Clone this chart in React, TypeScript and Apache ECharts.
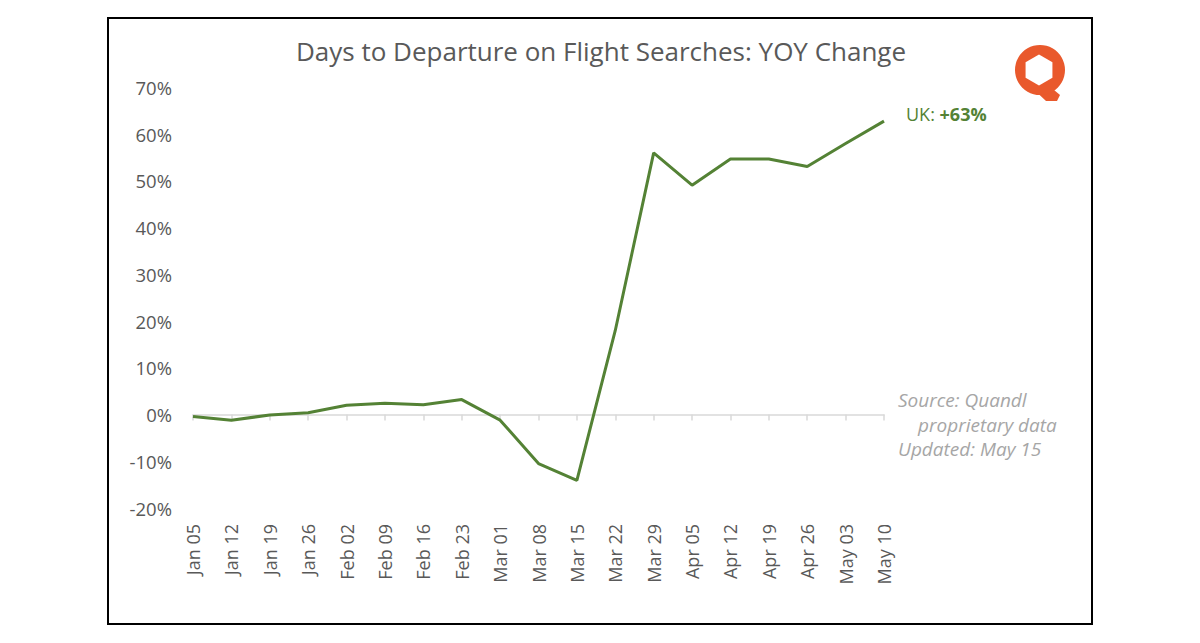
import React, { useEffect, useRef } from "react";
import * as echarts from "echarts";

const categories = [
  "Jan 05", "Jan 12", "Jan 19", "Jan 26", "Feb 02", "Feb 09", "Feb 16", "Feb 23",
  "Mar 01", "Mar 08", "Mar 15", "Mar 22", "Mar 29", "Apr 05", "Apr 12", "Apr 19",
  "Apr 26", "May 03", "May 10",
];
const ukValues = [
  -0.4, -1.2, -0.1, 0.4, 2.0, 2.4, 2.1, 3.2,
  -1.2, -10.5, -14.1, 18.0, 56.0, 49.1, 54.7, 54.7,
  53.1, 58.0, 62.8,
];
const yTicks = { min: -20, max: 70, interval: 10 };
const titleText = "Days to Departure on Flight Searches: YOY Change";
const seriesLabel = { name: "UK: ", value: "+63%" };
const sourceLines = ["Source: Quandl", "proprietary data", "Updated: May 15"];

const GREEN = "#548235";
const GRAY = "#595959";
const ORANGE = "#E9592C";
const FONT = "'Open Sans', 'Noto Sans', sans-serif";

export default function App() {
  const ref = useRef<HTMLDivElement>(null);
  useEffect(() => {
    if (!ref.current) return;
    const chart = echarts.init(ref.current, null, { renderer: "svg" });
    const hexPts: number[][] = [];
    for (let i = 0; i < 6; i++) {
      const a = (Math.PI / 3) * i - Math.PI / 2;
      hexPts.push([1039 + 15.5 * Math.cos(a), 70 + 15.5 * Math.sin(a)]);
    }
    chart.setOption({
      animation: false,
      backgroundColor: "#ffffff",
      title: {
        text: titleText,
        left: 596,
        top: 33,
        textAlign: "center",
        textStyle: { fontFamily: FONT, fontSize: 26, fontWeight: "normal", color: GRAY },
      },
      grid: { left: 193, right: 316, top: 87.5, bottom: 135, containLabel: false },
      xAxis: [
        {
          type: "category",
          data: categories,
          boundaryGap: false,
          axisLine: { show: false, onZero: false },
          axisTick: { show: false },
          axisLabel: {
            rotate: 90,
            margin: 16,
            fontFamily: FONT,
            fontSize: 18,
            color: GRAY,
            interval: 0,
          },
          splitLine: { show: false },
        },
        {
          type: "category",
          data: categories,
          boundaryGap: false,
          position: "bottom",
          axisLine: { show: true, onZero: true, lineStyle: { color: "#d9d9d9", width: 1.5 } },
          axisTick: { show: true, length: 6, interval: 0, lineStyle: { color: "#d9d9d9", width: 1.5 } },
          axisLabel: { show: false },
          splitLine: { show: false },
        },
      ],
      yAxis: {
        type: "value",
        min: yTicks.min,
        max: yTicks.max,
        interval: yTicks.interval,
        axisLine: { show: false },
        axisTick: { show: false },
        splitLine: { show: false },
        axisLabel: {
          formatter: (v: number) => `${Math.round(v)}%`,
          fontFamily: FONT,
          fontSize: 18.5,
          color: GRAY,
          margin: 21,
        },
      },
      series: [
        {
          type: "line",
          name: "UK",
          data: ukValues,
          xAxisIndex: 0,
          showSymbol: false,
          symbol: "none",
          lineStyle: { color: GREEN, width: 3 },
          endLabel: {
            show: true,
            formatter: () => `{n|${seriesLabel.name}}{b|${seriesLabel.value}}`,
            distance: 22,
            offset: [0, -7],
            rich: {
              n: { fontFamily: FONT, fontSize: 18, color: GREEN },
              b: { fontFamily: FONT, fontSize: 18, color: GREEN, fontWeight: "bold" },
            },
          },
        },
      ],
      graphic: [
        {
          type: "rect",
          shape: { x: 108, y: 18, width: 984, height: 606 },
          style: { fill: "none", stroke: "#000000", lineWidth: 2 },
          silent: true,
        },
        {
          type: "text",
          left: 898,
          top: 390,
          style: {
            text: sourceLines[0],
            font: `italic 19px ${FONT}`,
            fill: "#a6a6a6",
          },
        },
        {
          type: "text",
          left: 918,
          top: 415,
          style: {
            text: sourceLines[1],
            font: `italic 19px ${FONT}`,
            fill: "#a6a6a6",
          },
        },
        {
          type: "text",
          left: 898,
          top: 439,
          style: {
            text: sourceLines[2],
            font: `italic 19px ${FONT}`,
            fill: "#a6a6a6",
          },
        },
        {
          type: "polygon",
          shape: { points: [[1030, 86], [1047, 84], [1060, 95], [1057, 101], [1046, 101]] },
          style: { fill: ORANGE },
        },
        {
          type: "circle",
          shape: { cx: 1040, cy: 70, r: 25 },
          style: { fill: ORANGE },
        },
        {
          type: "polygon",
          shape: { points: hexPts },
          style: { fill: "#ffffff" },
        },
      ],
    });
    return () => chart.dispose();
  }, []);
  return (
    <div
      ref={ref}
      style={{ position: "fixed", left: 0, top: 0, width: 1200, height: 643, background: "#fff" }}
    />
  );
}
